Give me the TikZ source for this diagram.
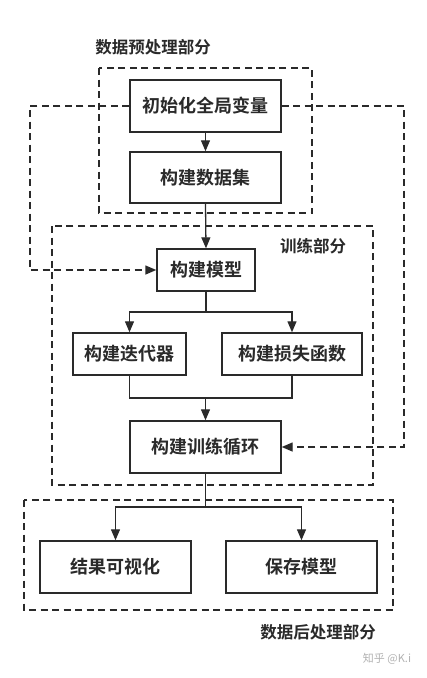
\documentclass[tikz,border=0pt]{standalone}
\usepackage{fontspec}
\setmainfont{Noto Sans CJK SC}[BoldFont={Noto Sans CJK SC Bold}]
\usetikzlibrary{arrows.meta}
\definecolor{ink}{HTML}{2A2A2A}
\tikzset{
  box/.style={draw=ink, line width=1.4pt, fill=white, text=ink, inner sep=0pt,
    font=\fontsize{18}{21}\selectfont\bfseries, minimum height=52pt},
  conn/.style={draw=ink, line width=1.3pt},
  arr/.style={conn, -{Triangle[length=11pt,width=9pt]}},
  dbox/.style={draw=ink, line width=1.4pt, dash pattern=on 7pt off 4.5pt},
  darr/.style={dbox, -{Triangle[length=11pt,width=9pt]}},
  lbl/.style={text=ink, inner sep=0pt, font=\fontsize{16.5}{19}\selectfont\bfseries},
}
\begin{document}
\begin{tikzpicture}[x=1pt,y=-1pt]
\useasboundingbox[fill=white] (0,0) rectangle (427,678);
% dashed group frames
\draw[dbox] (99,68) rectangle (312,213);
\draw[dbox] (52,226) rectangle (373,485);
\draw[dbox] (24,500) rectangle (393,610);
% labels
\node[lbl] (lpre) at (153,47) {数据预处理部分};
\node[lbl] (ltrain) at (313,246) {训练部分};
\node[lbl] (lpost) at (318,632) {数据后处理部分};
\node[text=black!30, inner sep=0pt, font=\fontsize{11}{13}\selectfont] (wm) at (387,659) {知乎 @K.i};
% nodes
\node[box, minimum width=151pt] (init) at (205.5,106) {初始化全局变量};
\node[box, minimum width=151pt, minimum height=51pt] (data) at (205.5,177.5) {构建数据集};
\node[box, minimum width=98pt, minimum height=42pt] (model) at (206,270) {构建模型};
\node[box, minimum width=113pt, minimum height=42pt] (iter) at (129.5,354) {构建迭代器};
\node[box, minimum width=140pt, minimum height=42pt] (loss) at (292,354) {构建损失函数};
\node[box, minimum width=151pt] (loop) at (205.5,447) {构建训练循环};
\node[box, minimum width=151pt] (vis) at (115.5,567) {结果可视化};
\node[box, minimum width=151pt] (save) at (301.5,567) {保存模型};
% junction coordinates
\coordinate (b1) at (206,312);
\coordinate (m1) at (205.5,398);
\coordinate (b2) at (205.5,507);
\coordinate (fl) at (30,106);
\coordinate (fr) at (404,106);
% connectors
\draw[arr] (init.south) -- (data.north);
\draw[arr] (data.south) -- (model.north);
\draw[conn] (model.south) -- (b1);
\draw[arr] (b1) -| (iter.north);
\draw[arr] (b1) -| (loss.north);
\draw[conn] (iter.south) |- (m1);
\draw[conn] (loss.south) |- (m1);
\draw[arr] (m1) -- (loop.north);
\draw[conn] (loop.south) -- (b2);
\draw[arr] (b2) -| (vis.north);
\draw[arr] (b2) -| (save.north);
\draw[darr] (init.west) -- (fl) |- (model.west);
\draw[darr] (init.east) -- (fr) |- (loop.east);
\end{tikzpicture}
\end{document}
